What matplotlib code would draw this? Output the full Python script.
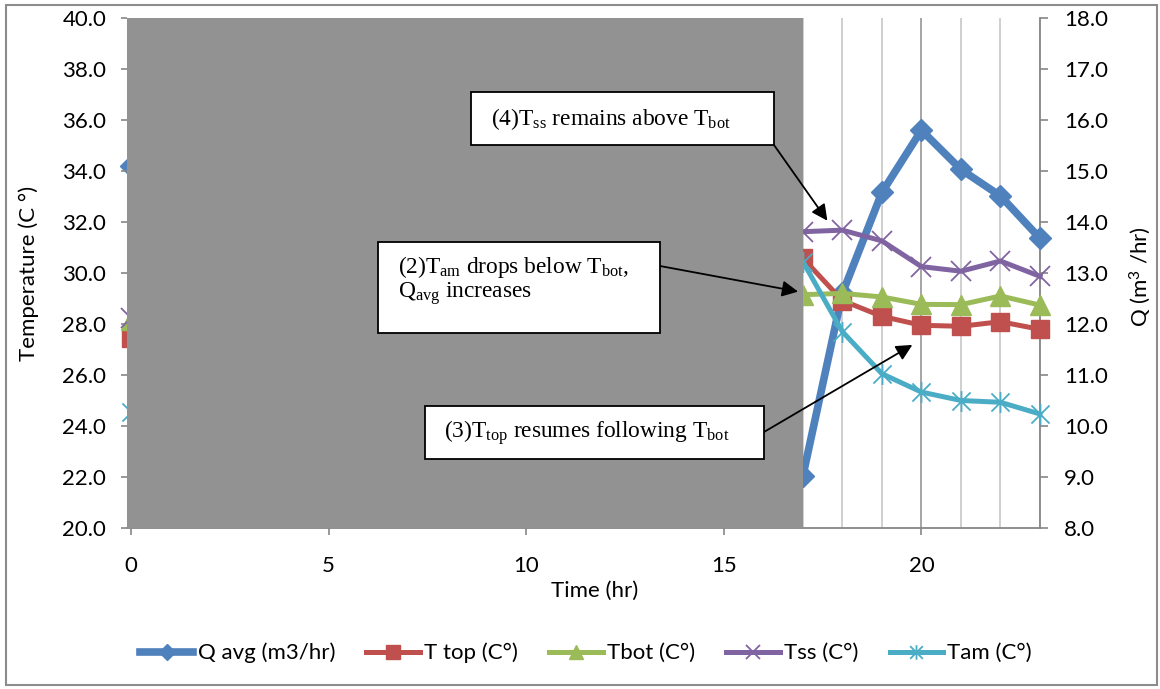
import numpy as np
import matplotlib
matplotlib.use("Agg")
import matplotlib.pyplot as plt
from matplotlib.path import Path
from matplotlib.patches import Rectangle
from matplotlib.ticker import MultipleLocator, FixedLocator, FormatStrFormatter

# ---------------- data ----------------
hours = [0, 17, 18, 19, 20, 21, 22, 23]
q_avg = [15.09, 9.02, 12.6, 14.58, 15.8, 15.03, 14.51, 13.68]
t_top = [27.45, 30.58, 28.92, 28.3, 27.95, 27.91, 28.09, 27.79]
t_bot = [28.15, 29.15, 29.2, 29.06, 28.77, 28.76, 29.1, 28.74]
t_ss = [28.25, 31.62, 31.68, 31.26, 30.25, 30.07, 30.47, 29.87]
t_am = [24.53, 30.45, 27.7, 26.05, 25.33, 25.0, 24.93, 24.47]
shade_end = 17

x_ticks = [0, 5, 10, 15, 20]
temp_ticks = [20, 22, 24, 26, 28, 30, 32, 34, 36, 38, 40]
q_ticks = [8, 9, 10, 11, 12, 13, 14, 15, 16, 17, 18]
series_labels = ["Q avg (m3/hr)", "T top (C°)", "Tbot (C°)", "Tss (C°)", "Tam (C°)"]

# ---------------- style ----------------
plt.rcParams['font.family'] = ['Lato', 'DejaVu Sans']
FS = 16
SERIF = ['Liberation Serif', 'DejaVu Serif']
AXC = '#868686'

W, H = 1160, 689
fig = plt.figure(figsize=(W / 100, H / 100), dpi=100)


def fx(px):
    return px / W


def fy(py):
    return 1 - py / H


ax_q = fig.add_axes([fx(127), fy(528), fx(1040) - fx(127), fy(18) - fy(528)])
ax_t = ax_q.twinx()
ax_q.yaxis.tick_right()
ax_q.yaxis.set_label_position('right')
ax_t.yaxis.tick_left()
ax_t.yaxis.set_label_position('left')

x_lim = (-0.1, 23)
ax_q.set_xlim(*x_lim)
ax_q.set_ylim(q_ticks[0], q_ticks[-1])
ax_t.set_ylim(temp_ticks[0], temp_ticks[-1])

# spines
for s in ax_t.spines.values():
    s.set_visible(False)
ax_q.spines['top'].set_visible(False)
ax_q.spines['left'].set_visible(False)
for k in ('right', 'bottom'):
    ax_q.spines[k].set_color(AXC)
    ax_q.spines[k].set_linewidth(1.3)

# ticks
ax_q.xaxis.set_major_locator(FixedLocator(x_ticks))
ax_q.xaxis.set_minor_locator(MultipleLocator(1))
ax_q.yaxis.set_major_locator(FixedLocator(q_ticks))
ax_q.yaxis.set_major_formatter(FormatStrFormatter('%.1f'))
ax_t.yaxis.set_major_locator(FixedLocator(temp_ticks))
ax_t.yaxis.set_major_formatter(FormatStrFormatter('%.1f'))
ax_q.tick_params(axis='x', which='major', direction='out', length=5, width=1.2,
                 color=AXC, labelsize=FS, pad=15)
ax_q.tick_params(axis='x', which='minor', length=0)
ax_q.tick_params(axis='y', direction='out', length=5.5, width=1.2, color=AXC,
                 labelsize=FS, pad=12)
ax_t.tick_params(axis='y', direction='out', length=4, width=1.2, color=AXC,
                 labelsize=FS, pad=11)
ax_t.tick_params(axis='x', length=0, labelbottom=False)

# gridlines
ax_q.set_axisbelow(True)
ax_q.grid(which='minor', axis='x', color='#cbcbcb', lw=1.3)
ax_q.grid(which='major', axis='x', color='#9e9e9e', lw=1.3)
ax_q.grid(which='major', axis='y', visible=False)

# series
star = Path([(-1, -1), (1, 1), (-1, 1), (1, -1), (0, -1.15), (0, 1.15)],
            [Path.MOVETO, Path.LINETO, Path.MOVETO, Path.LINETO, Path.MOVETO, Path.LINETO])

h_q, = ax_q.plot(hours, q_avg, color='#4F81BD', lw=5.5, marker='D', ms=11,
                 clip_on=False, zorder=3, label=series_labels[0])
h_top, = ax_t.plot(hours, t_top, color='#C0504D', lw=3.6, marker='s', ms=13.5,
                   clip_on=False, zorder=3, label=series_labels[1])
h_bot, = ax_t.plot(hours, t_bot, color='#9BBB59', lw=3.6, marker='^', ms=14,
                   clip_on=False, zorder=3, label=series_labels[2])
h_ss, = ax_t.plot(hours, t_ss, color='#8064A2', lw=3.6, marker='x', ms=14, mew=1.3,
                  clip_on=False, zorder=3, label=series_labels[3])
h_am, = ax_t.plot(hours, t_am, color='#4BACC6', lw=3.6, marker=star, ms=15, mew=1.3,
                  clip_on=False, zorder=3, label=series_labels[4])

# grey shading over the early period
ax_t.axvspan(x_lim[0], shade_end, color='#929292', lw=0, zorder=10)

# axis labels
fig.text(fx(29), fy(273), 'Temperature (C °)', rotation=90, ha='center', va='center', fontsize=FS)
fig.text(fx(1140), fy(277), r'Q (m$\mathregular{^{3}}$ /hr)', rotation=90, ha='center',
         va='center', fontsize=FS)
fig.text(fx(595), fy(591), 'Time (hr)', ha='center', va='center', fontsize=FS)

# legend
fig.legend([h_q, h_top, h_bot, h_ss, h_am], series_labels, loc='center',
           bbox_to_anchor=(fx(586), fy(653)), ncol=5, frameon=False, fontsize=FS,
           handlelength=2.4, handletextpad=0.2, columnspacing=1.4, markerscale=0.7)


# annotation boxes
def box(x0, y0, x1, y1):
    fig.add_artist(Rectangle((fx(x0), fy(y1)), fx(x1) - fx(x0), fy(y0) - fy(y1),
                             transform=fig.transFigure, fc='white', ec='black', lw=1.3,
                             zorder=5))


box(471, 92, 774, 145)
box(378, 242, 660, 333)
box(425, 406, 764, 459)

AFS = 16.8
fig.text(fx(611), fy(119), r'(4)T$\mathregular{_{ss}}$ remains above T$\mathregular{_{bot}}$',
         ha='center', va='center', fontsize=AFS, family=SERIF, zorder=6)
fig.text(fx(398), fy(267), r'(2)T$\mathregular{_{am}}$ drops below T$\mathregular{_{bot}}$,',
         ha='left', va='center', fontsize=AFS, family=SERIF, zorder=6)
fig.text(fx(398), fy(294), r'Q$\mathregular{_{avg}}$ increases',
         ha='left', va='center', fontsize=AFS, family=SERIF, zorder=6)
fig.text(fx(587), fy(433), r'(3)T$\mathregular{_{top}}$ resumes following T$\mathregular{_{bot}}$',
         ha='center', va='center', fontsize=AFS, family=SERIF, zorder=6)

arrow_kw = dict(arrowstyle='-|>', color='black', lw=1.3, mutation_scale=24,
                shrinkA=0, shrinkB=0)
for start, tip in [((774, 145), (17.62, 32.05)),
                   ((660, 266), (16.88, 29.27)),
                   ((764, 432), (19.77, 27.18))]:
    ax_t.annotate('', xy=tip, xycoords='data', xytext=(fx(start[0]), fy(start[1])),
                  textcoords='figure fraction', arrowprops=arrow_kw,
                  annotation_clip=False, zorder=20)

# outer border
fig.add_artist(Rectangle((fx(6), fy(685)), fx(1157) - fx(6), fy(5) - fy(685),
                         transform=fig.transFigure, fill=False, ec='#8c8c8c', lw=1.5,
                         zorder=0.5))

fig.savefig('out.png', dpi=100)
